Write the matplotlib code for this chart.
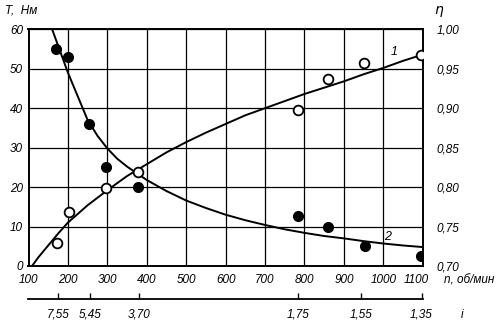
import numpy as np
import matplotlib
matplotlib.use('Agg')
import matplotlib.pyplot as plt
import matplotlib.transforms as mtransforms

plt.rcParams['font.family'] = ['Liberation Sans', 'DejaVu Sans']
plt.rcParams['font.style'] = 'italic'
plt.rcParams['font.size'] = 8.5

# Measured torque T (filled points) and efficiency eta (open points) vs speed n
n_T = [170, 201, 253, 296, 377, 783, 861, 953, 1096]
T_meas = [55, 53, 36, 25, 20, 12.7, 10, 5.1, 2.6]

n_eta = [173, 204, 296, 377, 783, 860, 951, 1095]
eta_meas = [0.729, 0.769, 0.799, 0.819, 0.898, 0.937, 0.957, 0.967]

# Averaged curves
n_curve1 = [109, 125, 150, 175, 200, 250, 300, 350, 400, 450, 500, 550, 600,
            650, 700, 750, 800, 850, 900, 950, 1000, 1050, 1100]
eta_curve1 = [0.700, 0.711, 0.726, 0.741, 0.755, 0.777, 0.796, 0.814, 0.829,
              0.844, 0.857, 0.869, 0.880, 0.891, 0.900, 0.909, 0.918, 0.926,
              0.934, 0.943, 0.951, 0.960, 0.968]

n_curve2 = [160, 180, 200, 225, 250, 275, 300, 325, 350, 375, 400, 450, 500,
            550, 600, 650, 700, 750, 800, 850, 900, 950, 1000, 1050, 1100]
T_curve2 = [60, 54.5, 49, 43, 37, 33, 29.8, 27.2, 25.2, 23.5, 21.8, 19.0, 16.6,
            14.7, 13.0, 11.6, 10.4, 9.3, 8.4, 7.6, 7.0, 6.3, 5.7, 5.2, 4.8]

# Axis ticks
n_ticks = [100, 200, 300, 400, 500, 600, 700, 800, 900, 1000, 1100]
T_ticks = [0, 10, 20, 30, 40, 50, 60]
eta_ticks = [0.70, 0.75, 0.80, 0.85, 0.90, 0.95, 1.00]

# Gear ratio scale under the speed axis
i_pos = [174, 256, 380, 783, 944, 1097]
i_labels = ['7,55', '5,45', '3,70', '1,75', '1,55', '1,35']

fig = plt.figure(figsize=(5.0, 3.23), dpi=100)
ax = fig.add_axes([0.057, 0.1765, 0.7884, 0.7328])

ax.set_xlim(100, 1100)
ax.set_ylim(0, 60)
ax.set_xticks(n_ticks)
ax.set_yticks(T_ticks)
ax.grid(True, color='black', linewidth=0.9)
ax.set_axisbelow(True)
ax.tick_params(length=0, pad=4)
ax.tick_params(axis='x', pad=6)
for s in ax.spines.values():
    s.set_linewidth(1.4)
# nudge the last speed label left, leaving room for the unit
last = ax.get_xticklabels()[-1]
last.set_transform(last.get_transform() +
                   mtransforms.ScaledTranslation(-0.06, 0, fig.dpi_scale_trans))

ax.plot(n_curve2, T_curve2, color='black', lw=1.4, zorder=3)
ax.plot(n_T, T_meas, 'o', ms=7, color='black', zorder=4)

ax2 = ax.twinx()
ax2.set_ylim(0.70, 1.00)
ax2.set_yticks(eta_ticks)
ax2.set_yticklabels([('%.2f' % v).replace('.', ',') for v in eta_ticks])
ax2.tick_params(length=0, pad=10)
for s in ax2.spines.values():
    s.set_visible(False)
ax2.plot(n_curve1, eta_curve1, color='black', lw=1.4, zorder=3)
ax2.plot(n_eta, eta_meas, 'o', ms=7, mfc='white', mec='black', mew=1.3,
         zorder=4)

ax2.text(1027, 0.971, '1', ha='center', va='center', fontsize=9)
ax.text(1010, 7.4, '2', ha='center', va='center', fontsize=9)

fig.text(0.010, 0.968, 'T,  Нм', ha='left', va='center')
fig.text(0.878, 0.968, 'η', ha='center', va='center', fontsize=10,
         family='DejaVu Sans')
fig.text(0.888, 0.133, 'n, об/мин', ha='left', va='center')
fig.text(0.925, 0.025, 'i', ha='center', va='center')

# Second scale: gear ratio
ax3 = fig.add_axes([0.057, 0.074, 0.7884, 0.001])
ax3.set_xlim(100, 1100)
ax3.set_yticks([])
for k in ['top', 'left', 'right']:
    ax3.spines[k].set_visible(False)
ax3.spines['bottom'].set_linewidth(1.3)
ax3.set_xticks(i_pos)
ax3.set_xticklabels(i_labels)
ax3.tick_params(axis='x', direction='in', length=4, width=1, pad=7)
ax3.patch.set_visible(False)

fig.savefig('out.png', dpi=100)
